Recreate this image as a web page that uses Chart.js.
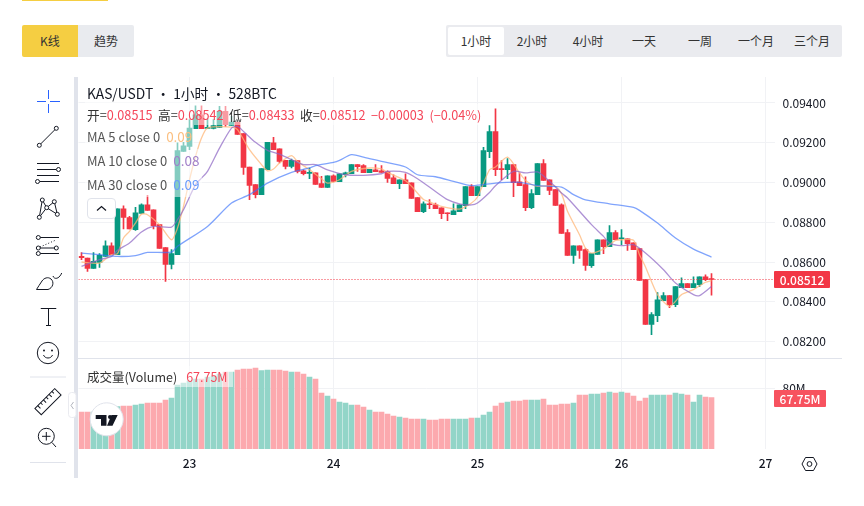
<!DOCTYPE html>
<html>
<head>
<meta charset="utf-8">
<title>KAS/USDT</title>
<script src="https://cdn.jsdelivr.net/npm/chart.js@4/dist/chart.umd.min.js"></script>
<style>
html, body { margin: 0; padding: 0; background: #fff; overflow: hidden; }
body { width: 864px; height: 506px; position: relative; font-family: "Noto Sans CJK SC", "Noto Sans", sans-serif; color: #131722; }
.abs { position: absolute; }
.strip { left: 22px; top: 0; width: 86px; height: 1px; background: #f5ce42; }
.btn { top: 25px; height: 32px; width: 56px; line-height: 32px; text-align: center; font-size: 12px; color: #333; }
.tabs { left: 446px; top: 25px; width: 396px; height: 32px; background: #eaebef; border-radius: 2px; }
.tab { position: absolute; top: 2px; width: 56px; height: 28px; line-height: 28px; text-align: center; font-size: 12px; color: #333; }
.tab.on { background: #fff; border-radius: 2px; }
.divider { left: 74px; top: 77px; width: 4px; height: 401px; background: #e0e3eb; }
.sep { left: 78px; top: 358px; width: 764px; height: 1px; background: #e0e3eb; }
.wrap { position: absolute; left: 0; width: 864px; }
.row { position: absolute; left: 85px; height: 24px; line-height: 22px; font-size: 13px; padding: 0 2px; background: rgba(255,255,255,.5); color: #555; white-space: nowrap; }
.row b { font-weight: 400; font-size: 13.5px; margin-left: 6px; }
.red { color: #f5475a; }
.gap { margin-left: 5.5px; }
.tag { position: absolute; color: #fff; font-size: 12px; font-weight: 500; text-align: center; }
</style>
</head>
<body>
<div class="abs strip"></div>
<div class="abs btn" style="left:22px;background:#f5ce42;border-radius:2px 0 0 2px">K线</div>
<div class="abs btn" style="left:78px;background:#e9ebef;border-radius:0 2px 2px 0">趋势</div>
<div class="abs tabs" id="tabs"></div>

<div class="wrap" style="top:77px;height:281px"><canvas id="priceChart"></canvas></div>
<div class="wrap" style="top:358px;height:118px"><canvas id="volumeChart"></canvas></div>
<div class="abs sep"></div>
<div class="abs divider"></div>

<div class="row" style="top:83px;height:21px;line-height:21px;font-size:13.8px;color:#131722">KAS/USDT · 1小时 · 528BTC</div>
<div class="row" id="ohlcRow" style="top:104px;height:21px;line-height:22px;font-size:12.7px;color:#333"></div>
<div class="row" id="ma5Row" style="top:125px"></div>
<div class="row" id="ma10Row" style="top:149px"></div>
<div class="row" id="ma30Row" style="top:173px"></div>
<div class="abs" style="left:87px;top:198px;width:27px;height:19px;border:1px solid #e0e3eb;border-radius:4px;background:#fff">
  <svg width="27" height="19"><path d="M9 11.5 L13.5 7.5 L18 11.5" fill="none" stroke="#131722" stroke-width="1.2"/></svg>
</div>
<div class="row" style="top:366px;height:21px;line-height:21px;font-size:12.5px;width:144px;color:#333">成交量(Volume)<span class="red" style="margin-left:9px">67.75M</span></div>

<div class="tag" style="left:774px;top:271px;width:56px;height:17px;line-height:17px;background:#f23645;border-radius:1px">0.08512</div>
<div class="tag" style="left:774px;top:390px;width:52px;height:17px;line-height:17px;background:#f7525f;border-radius:1px">67.75M</div>

<!-- left toolbar, logo and settings icon -->
<svg class="abs" style="left:0;top:0;pointer-events:none" width="864" height="506">
  <g fill="none" stroke="#2962ff" stroke-width="1">
    <path d="M37 101.5H46M50 101.5H60M48.5 90V99M48.5 104V113"/>
  </g>
  <g fill="#fff" stroke="#131722" stroke-width="1">
    <path d="M39.3 145.3L56.3 128.3"/><circle cx="39.3" cy="145.3" r="2"/><circle cx="56.3" cy="128.3" r="2"/>
    <path d="M37 163.5H59M37 169.5H56M37 175.5H59M40 181.5H59"/><circle cx="58.5" cy="169.5" r="2"/><circle cx="37.5" cy="181.5" r="2"/>
    <path fill="none" d="M39.3 217.3L46.7 207.7L54.3 201.7L57.3 214.3L46.7 207.7L42.3 200L39.3 217.3"/>
    <circle cx="42.3" cy="200" r="2"/><circle cx="54.3" cy="201.7" r="2"/><circle cx="46.7" cy="207.7" r="2"/><circle cx="39.3" cy="217.3" r="2"/><circle cx="57.3" cy="214.3" r="2"/>
    <path d="M40 237.5H59M40 248H55M40 253.5H59"/><path d="M40 247L56 240" stroke-dasharray="1 2"/>
    <circle cx="38.3" cy="237.5" r="2"/><circle cx="38.3" cy="248" r="2"/><circle cx="56.3" cy="248" r="2"/><circle cx="38.3" cy="253.5" r="2"/>
    <path fill="none" d="M36.5 289.5H48C53 288 54.5 282 51 279C48 276.5 44 278 42 281C40 284 38 287 36.5 289.5ZM53 276C54 279.5 59 279.5 61.7 273"/>
    <path fill="none" d="M41 309V308.5H56V309M48.5 308.5V325.5M46 325.5H51"/>
    <circle fill="none" cx="48" cy="353" r="10.7"/>
    <path fill="none" d="M43.5 355C45 359 51 359 52.5 355"/>
    <g transform="rotate(-45 48 401.7)"><rect fill="none" x="34" y="397.2" width="28" height="9"/><path d="M38 397.2V401M42 397.2V400M46 397.2V401M50 397.2V400M54 397.2V401M58 397.2V400"/></g>
    <circle fill="none" cx="46.3" cy="436.3" r="8"/><path d="M42 436.3H50.5M46.3 432V440.5M52 442.5L56 447"/>
  </g>
  <circle cx="44" cy="350.5" r="1" fill="#131722"/><circle cx="52" cy="350.5" r="1" fill="#131722"/>
  <path d="M30 377H66M30 462.5H66" stroke="#e0e3eb" stroke-width="1"/>
  <rect x="68.5" y="392.5" width="7.5" height="25" rx="3" fill="#fff" stroke="#eaebf0"/>
  <path d="M73.5 402L71 405.5L73.5 409" fill="none" stroke="#b2b5be"/>
  <circle cx="106.7" cy="419.3" r="16.5" fill="#fff" stroke="#e0e3eb" stroke-width="1"/>
  <path d="M95.7 415H106.5V425.7H101V419H95.7ZM111.5 415H117.7L112.5 425.7H107Z" fill="#131722"/>
  <circle cx="110" cy="417" r="2" fill="#131722"/>
  <path d="M805.5 457.5H813.5L817 464L813.5 470.5H805.5L802 464Z" fill="none" stroke="#131722" stroke-width="1"/>
  <circle cx="809.5" cy="464" r="2.4" fill="none" stroke="#131722" stroke-width="1"/>
</svg>

<script>
// values
const tabLabels = ['1小时', '2小时', '4小时', '一天', '一周', '一个月', '三个月'];
const priceTicks = [0.094, 0.092, 0.09, 0.088, 0.086, 0.084, 0.082];
const volumeTicks = [80];
const dayTickHours = [18, 42, 66, 90, 114];
const dayTickLabels = ['23', '24', '25', '26', '27'];

const opens = [
    0.08628,0.08620,0.08568,0.08598,0.08628,0.08682,0.08637,0.08868,0.08824,0.08763,
    0.08845,0.08888,0.08863,0.08788,0.08672,0.08588,0.08637,0.09156,0.09182,0.09271,
    0.09341,0.09272,0.09272,0.09277,0.09358,0.09287,0.09304,0.09246,0.09078,0.08989,
    0.08939,0.09064,0.09199,0.09169,0.09111,0.09081,0.09110,0.09059,0.09046,0.09049,
    0.08994,0.08975,0.09034,0.09004,0.09039,0.09044,0.09090,0.09085,0.09049,0.09064,
    0.09059,0.09054,0.09024,0.08994,0.09014,0.08999,0.08924,0.08853,0.08893,0.08888,
    0.08873,0.08847,0.08838,0.08853,0.08883,0.08979,0.08934,0.08979,0.09155,0.09256,
    0.09070,0.09064,0.09090,0.09004,0.08989,0.08873,0.08939,0.09095,0.09014,0.08964,
    0.08888,0.08748,0.08633,0.08682,0.08662,0.08581,0.08638,0.08712,0.08677,0.08748,
    0.08717,0.08717,0.08697,0.08667,0.08511,0.08286,0.08330,0.08405,0.08431,0.08385,
    0.08471,0.08491,0.08471,0.08486,0.08526,0.08515];
const highs = [
    0.08648,0.08620,0.08648,0.08642,0.08707,0.08696,0.08868,0.08883,0.08830,0.08875,
    0.08893,0.08935,0.08863,0.08788,0.08672,0.08662,0.09199,0.09202,0.09316,0.09386,
    0.09386,0.09320,0.09316,0.09383,0.09383,0.09333,0.09304,0.09246,0.09078,0.08989,
    0.09070,0.09202,0.09227,0.09169,0.09111,0.09118,0.09110,0.09064,0.09073,0.09049,
    0.09031,0.09034,0.09039,0.09044,0.09053,0.09090,0.09090,0.09090,0.09066,0.09090,
    0.09085,0.09059,0.09039,0.09014,0.09044,0.08999,0.08924,0.08903,0.08914,0.08897,
    0.08873,0.08847,0.08893,0.08888,0.08979,0.08989,0.08979,0.09177,0.09286,0.09371,
    0.09110,0.09120,0.09090,0.09049,0.09029,0.08964,0.09095,0.09115,0.09014,0.08964,
    0.08893,0.08763,0.08682,0.08682,0.08667,0.08642,0.08712,0.08712,0.08783,0.08758,
    0.08763,0.08717,0.08697,0.08667,0.08511,0.08345,0.08446,0.08446,0.08431,0.08476,
    0.08521,0.08491,0.08526,0.08526,0.08536,0.08542];
const lows = [
    0.08612,0.08553,0.08568,0.08573,0.08628,0.08637,0.08637,0.08766,0.08766,0.08759,
    0.08845,0.08860,0.08766,0.08668,0.08502,0.08565,0.08637,0.09156,0.09165,0.09271,
    0.09271,0.09272,0.09269,0.09277,0.09282,0.09287,0.09242,0.09041,0.08914,0.08922,
    0.08939,0.09064,0.09165,0.09098,0.09068,0.09073,0.09048,0.09038,0.09019,0.08990,
    0.08975,0.08975,0.09003,0.09004,0.09028,0.09044,0.09056,0.09049,0.09049,0.09054,
    0.09051,0.09001,0.08994,0.08969,0.08994,0.08920,0.08853,0.08848,0.08868,0.08868,
    0.08818,0.08808,0.08838,0.08853,0.08868,0.08934,0.08934,0.08979,0.09125,0.09034,
    0.09014,0.09019,0.08929,0.08984,0.08858,0.08868,0.08939,0.09011,0.08939,0.08885,
    0.08744,0.08633,0.08593,0.08618,0.08558,0.08573,0.08638,0.08642,0.08677,0.08712,
    0.08687,0.08658,0.08662,0.08508,0.08286,0.08234,0.08300,0.08405,0.08370,0.08375,
    0.08471,0.08471,0.08471,0.08476,0.08506,0.08433];
const closes = [
    0.08622,0.08568,0.08603,0.08633,0.08682,0.08637,0.08868,0.08824,0.08766,0.08848,
    0.08888,0.08860,0.08783,0.08668,0.08588,0.08642,0.09160,0.09185,0.09274,0.09341,
    0.09271,0.09276,0.09286,0.09358,0.09291,0.09304,0.09242,0.09076,0.08985,0.08939,
    0.09070,0.09202,0.09165,0.09106,0.09081,0.09111,0.09056,0.09044,0.09051,0.08990,
    0.08975,0.09034,0.09006,0.09044,0.09049,0.09090,0.09080,0.09049,0.09066,0.09054,
    0.09051,0.09021,0.08994,0.09014,0.08994,0.08920,0.08853,0.08893,0.08888,0.08868,
    0.08843,0.08843,0.08858,0.08888,0.08979,0.08934,0.08979,0.09160,0.09256,0.09064,
    0.09064,0.09090,0.08999,0.08984,0.08873,0.08944,0.09095,0.09011,0.08960,0.08885,
    0.08744,0.08633,0.08682,0.08658,0.08583,0.08642,0.08712,0.08677,0.08748,0.08712,
    0.08722,0.08692,0.08662,0.08508,0.08286,0.08335,0.08410,0.08431,0.08385,0.08476,
    0.08491,0.08471,0.08491,0.08526,0.08511,0.08512];
// volume in millions
const volumes = [
    48.8,48.8,48.8,51.5,51.5,53.7,55.9,56.8,56.8,58.1,
    59.4,60.7,60.7,60.7,64.7,67.3,84.5,87.1,89.8,92.4,
    92.4,95,96.4,99,101.6,101.6,104.3,105.6,105.6,106.9,
    103.4,104.3,104.3,104.3,103,101.6,101.6,99,95,92.4,
    73.9,70,66,62,60.7,58.1,58.1,55.4,51.5,48.8,
    48.8,46.2,43.6,42.2,40.9,39.6,39.6,39.6,38.3,38.3,
    39.6,39.6,39.6,39.6,39.6,40.9,40.9,44.9,48.8,56.8,
    60.7,62,63.4,63.4,64.7,64.7,64.7,66,58.1,58.1,
    59.4,59.4,60.7,71.3,71.3,72.6,72.6,73.9,75.2,73.9,
    75.2,73.9,70,63.4,67.3,71.3,71.3,71.3,71.3,73.9,
    72.6,71.3,62,71.3,68.6,67.75];

// moving averages, read at the candle hours listed next to them
const ma5Hours = [0,3,5,6,7,8,9,10,11,13,15,16,17,18,19,20,21,25,26,28,30,31,32,33,35,36,38,40,41,43,45,48,50,51,54,55,57,58,60,63,65,66,68,69,71,73,74,75,76,78,79,80,81,83,84,85,87,88,89,90,92,93,94,96,98,99,100,102,104,105];
const ma5 = [0.08600,0.08595,0.08637,0.08642,0.08721,0.08754,0.08796,0.08841,0.08838,0.08788,0.08712,0.08771,0.08880,0.09014,0.09131,0.09224,0.09274,0.09279,0.09266,0.09165,0.09090,0.09059,0.09068,0.09098,0.09135,0.09106,0.09064,0.09019,0.08997,0.09014,0.09056,0.09073,0.09068,0.09051,0.09009,0.08981,0.08914,0.08903,0.08880,0.08866,0.08897,0.08927,0.09064,0.09078,0.09128,0.09048,0.09011,0.08990,0.08981,0.08984,0.08981,0.08944,0.08855,0.08737,0.08670,0.08645,0.08665,0.08687,0.08709,0.08712,0.08709,0.08637,0.08575,0.08436,0.08377,0.08402,0.08436,0.08461,0.08498,0.08506];
const ma10Hours = [0,3,5,6,8,10,12,15,16,17,19,20,21,23,25,26,27,29,31,33,35,37,39,41,44,47,50,51,54,56,59,61,63,65,66,68,69,72,74,76,78,80,81,85,87,88,90,92,94,97,99,102,103,105];
const ma10 = [0.08578,0.08612,0.08628,0.08659,0.08696,0.08751,0.08779,0.08776,0.08813,0.08863,0.08989,0.09022,0.09056,0.09173,0.09274,0.09282,0.09257,0.09202,0.09162,0.09143,0.09115,0.09090,0.09090,0.09064,0.09039,0.09036,0.09044,0.09056,0.09051,0.09019,0.08955,0.08914,0.08893,0.08887,0.08897,0.08950,0.08984,0.09056,0.09048,0.09053,0.09006,0.08947,0.08922,0.08788,0.08729,0.08695,0.08682,0.08687,0.08645,0.08561,0.08494,0.08436,0.08431,0.08477];
const ma30Hours = [0,3,6,9,11,15,16,21,25,28,31,35,38,39,42,43,45,47,50,54,56,59,62,65,69,73,76,80,82,84,88,92,93,96,99,102,105];
const ma30 = [0.08645,0.08637,0.08628,0.08632,0.08648,0.08650,0.08679,0.08779,0.08897,0.08939,0.08997,0.09051,0.09073,0.09085,0.09101,0.09111,0.09140,0.09128,0.09106,0.09078,0.09039,0.09029,0.09006,0.08984,0.08997,0.09001,0.08984,0.08977,0.08939,0.08913,0.08893,0.08875,0.08860,0.08796,0.08721,0.08665,0.08625];

const lastPrice = 0.08512;

const GREEN = '#089981';
const RED = '#f23645';
const GRID = '#f1f2f5';

tabLabels.forEach((label, i) => {
    const el = document.createElement('div');
    el.className = 'tab' + (i === 0 ? ' on' : '');
    el.style.left = (2 + i * 56) + 'px';
    el.textContent = label;
    document.getElementById('tabs').appendChild(el);
});

document.getElementById('ohlcRow').innerHTML =
    '开=<span class="red">0.08515</span><span class="gap">高=</span><span class="red">0.08542</span><span class="gap">低=</span><span class="red">0.08433</span><span class="gap">收=</span><span class="red">0.08512</span><span class="red gap">−0.00003</span><span class="red gap">(−0.04%)</span>';
document.getElementById('ma5Row').innerHTML = 'MA 5 close 0<b style="color:#fbbf80">0.09</b>';
document.getElementById('ma10Row').innerHTML = 'MA 10 close 0<b style="color:#a07fc9">0.08</b>';
document.getElementById('ma30Row').innerHTML = 'MA 30 close 0<b style="color:#6a9bfb">0.09</b>';

const isUp = closes.map((c, i) => c >= opens[i]);
const candleColors = isUp.map(up => up ? GREEN : RED);
const volumeColors = isUp.map(up => up ? '#92d5c8' : '#fca9ae');

function maDataset(hours, values, color, order) {
    return {
        type: 'line',
        data: hours.map((h, i) => ({ x: h, y: values[i] })),
        borderColor: color,
        borderWidth: 1.3,
        pointRadius: 0,
        tension: 0.25,
        order: order
    };
}

function fixedYAxis(ticks, min, max, format) {
    return {
        position: 'right',
        min: min,
        max: max,
        border: { display: false },
        grid: { color: GRID, drawTicks: false },
        afterBuildTicks: scale => { scale.ticks = ticks.map(v => ({ value: v })); },
        afterFit: scale => {
            scale.width = 89.5;
            scale.paddingTop = 0;
            scale.paddingBottom = 0;
        },
        ticks: {
            padding: 8,
            color: '#131722',
            font: { family: '"Noto Sans CJK SC", "Noto Sans", sans-serif', size: 12 },
            callback: format
        }
    };
}

function hourAxis(showLabels) {
    return {
        type: 'linear',
        min: -0.5,
        max: 115.5,
        offset: false,
        border: { display: false },
        grid: { color: GRID, drawTicks: false, offset: false },
        afterBuildTicks: scale => { scale.ticks = dayTickHours.map(v => ({ value: v })); },
        afterFit: scale => {
            scale.height = showLabels ? 27 : 0;
            scale.paddingLeft = 0;
            scale.paddingRight = 0;
        },
        ticks: {
            display: showLabels,
            maxRotation: 0,
            autoSkip: false,
            padding: 7,
            color: '#131722',
            font: { family: '"Noto Sans CJK SC", "Noto Sans", sans-serif', size: 12, weight: '500' },
            callback: value => dayTickLabels[dayTickHours.indexOf(value)]
        }
    };
}

const sharedOptions = {
    responsive: true,
    maintainAspectRatio: false,
    animation: false,
    events: [],
    layout: { padding: { left: 78.5, right: 0, top: 0, bottom: 0 } },
    plugins: { legend: { display: false }, tooltip: { enabled: false } }
};

new Chart(document.getElementById('priceChart'), {
    data: {
        datasets: [
            {
                type: 'bar',
                data: highs.map((h, i) => ({ x: i, y: [lows[i], h] })),
                backgroundColor: candleColors,
                barThickness: 1,
                grouped: false,
                order: 6
            },
            {
                type: 'bar',
                data: opens.map((o, i) => ({ x: i, y: [o, closes[i]] })),
                backgroundColor: candleColors,
                barThickness: 5,
                minBarLength: 1,
                grouped: false,
                order: 5
            },
            maDataset(ma5Hours, ma5, 'rgba(255,183,120,.75)', 4),
            maDataset(ma10Hours, ma10, 'rgba(140,100,195,.7)', 3),
            maDataset(ma30Hours, ma30, 'rgba(60,115,250,.65)', 2),
            {
                type: 'line',
                data: [{ x: -0.5, y: lastPrice }, { x: 115.5, y: lastPrice }],
                borderColor: RED,
                borderWidth: 1,
                borderDash: [1, 2],
                pointRadius: 0,
                order: 1
            }
        ]
    },
    options: {
        ...sharedOptions,
        scales: {
            x: hourAxis(false),
            y: fixedYAxis(priceTicks, 0.081171, 0.095308, v => v.toFixed(5))
        }
    }
});

new Chart(document.getElementById('volumeChart'), {
    data: {
        datasets: [{
            type: 'bar',
            data: volumes.map((v, i) => ({ x: i, y: v })),
            backgroundColor: volumeColors,
            barThickness: 5,
            grouped: false
        }]
    },
    options: {
        ...sharedOptions,
        scales: {
            x: hourAxis(true),
            y: fixedYAxis(volumeTicks, 0, 120.13, v => v + 'M')
        }
    }
});
</script>
</body>
</html>
